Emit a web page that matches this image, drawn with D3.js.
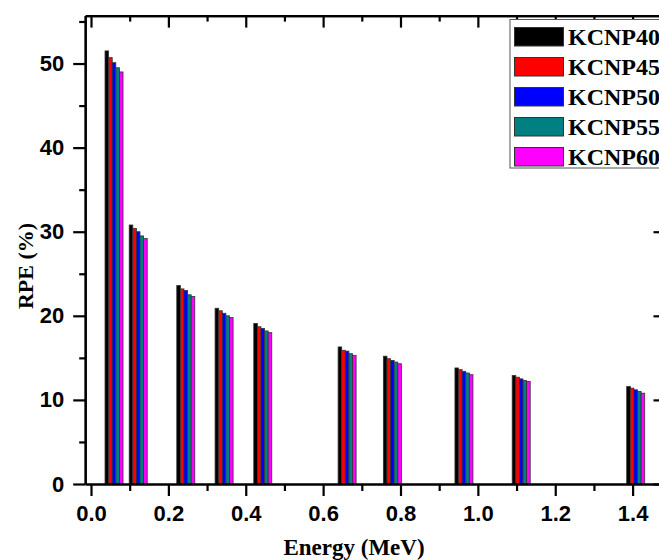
<!DOCTYPE html>
<html>
<head>
<meta charset="utf-8">
<script src="https://cdn.jsdelivr.net/npm/d3@7"></script>
<style>
  html, body { margin: 0; padding: 0; background: #fff; }
  svg { display: block; }
</style>
</head>
<body>
<svg id="chart" width="659" height="560"></svg>
<script>
// ---- Data ----
const energies = [0.0595, 0.122, 0.245, 0.344, 0.444, 0.662, 0.779, 0.964, 1.112, 1.408];
const seriesNames = ["KCNP40", "KCNP45", "KCNP50", "KCNP55", "KCNP60"];
const seriesColors = ["#000000", "#ff0000", "#0000ff", "#008080", "#ff00ff"];
const KCNP40 = [51.5, 30.8, 23.6, 20.9, 19.1, 16.3, 15.2, 13.8, 12.9, 11.6];
const KCNP45 = [50.7, 30.4, 23.2, 20.6, 18.7, 15.9, 14.9, 13.6, 12.7, 11.4];
const KCNP50 = [50.1, 30.0, 23.0, 20.3, 18.5, 15.8, 14.7, 13.4, 12.5, 11.2];
const KCNP55 = [49.5, 29.5, 22.5, 20.0, 18.2, 15.5, 14.5, 13.2, 12.3, 11.0];
const KCNP60 = [49.0, 29.2, 22.3, 19.8, 18.0, 15.3, 14.3, 13.0, 12.2, 10.8];
const seriesValues = [KCNP40, KCNP45, KCNP50, KCNP55, KCNP60];
const xTickValues = [0.0, 0.2, 0.4, 0.6, 0.8, 1.0, 1.2, 1.4];
const xMinorTicks = [0.1, 0.3, 0.5, 0.7, 0.9, 1.1, 1.3];
const yTickValues = [0, 10, 20, 30, 40, 50];
const yMinorTicks = [5, 15, 25, 35, 45, 55];

(function () {
// ---- Layout ----
const svg = d3.select("#chart");
const pLeft = 85.2, pRight = 665.5, pTop = 15.6, pBottom = 484;
const x = d3.scaleLinear().domain([-0.015, 1.485]).range([pLeft, pRight]);
const y = d3.scaleLinear().domain([0, 55.7]).range([pBottom, pTop]);
const barW = 3.6;

// ---- Bars ----
const gBars = svg.append("g");
seriesValues.forEach((vals, si) => {
  gBars.selectAll(null)
    .data(vals)
    .enter()
    .append("rect")
    .attr("x", (d, i) => x(energies[i]) + (si - 2.5) * barW)
    .attr("y", d => y(d))
    .attr("width", barW)
    .attr("height", d => y(0) - y(d))
    .attr("fill", seriesColors[si])
    .attr("stroke", "#333")
    .attr("stroke-width", 0.8);
});

// ---- Axes ----
const tickFont = "'Liberation Sans', Arial, sans-serif";
function styleAxis(g) {
  g.select(".domain").attr("stroke", "#000").attr("stroke-width", 2.2);
  g.selectAll(".tick line").attr("stroke", "#000").attr("stroke-width", 2.2);
  g.selectAll(".tick text")
    .attr("font-family", tickFont)
    .attr("font-weight", "bold")
    .attr("font-size", "22px")
    .attr("fill", "#000");
}

const gx = svg.append("g").attr("transform", `translate(0,${pBottom})`)
  .call(d3.axisBottom(x).tickValues(xTickValues).tickFormat(d3.format(".1f"))
    .tickSize(12).tickSizeOuter(0).tickPadding(9));
styleAxis(gx);
const gxm = svg.append("g").attr("transform", `translate(0,${pBottom})`)
  .call(d3.axisBottom(x).tickValues(xMinorTicks).tickFormat("").tickSize(7).tickSizeOuter(0));
styleAxis(gxm);

const gt = svg.append("g").attr("transform", `translate(0,${pTop})`)
  .call(d3.axisBottom(x).tickValues(xTickValues).tickFormat("").tickSize(12).tickSizeOuter(0));
styleAxis(gt);
const gtm = svg.append("g").attr("transform", `translate(0,${pTop})`)
  .call(d3.axisBottom(x).tickValues(xMinorTicks).tickFormat("").tickSize(6).tickSizeOuter(0));
styleAxis(gtm);

const gy = svg.append("g").attr("transform", `translate(${pLeft},0)`)
  .call(d3.axisLeft(y).tickValues(yTickValues).tickFormat(d3.format("d"))
    .tickSize(12).tickSizeOuter(0).tickPadding(9));
styleAxis(gy);
const gym = svg.append("g").attr("transform", `translate(${pLeft},0)`)
  .call(d3.axisLeft(y).tickValues(yMinorTicks).tickFormat("").tickSize(6).tickSizeOuter(0));
styleAxis(gym);

const gr = svg.append("g").attr("transform", `translate(${pRight},0)`)
  .call(d3.axisRight(y).tickValues(yTickValues).tickFormat("").tickSize(-12).tickSizeOuter(0));
styleAxis(gr);
const grm = svg.append("g").attr("transform", `translate(${pRight},0)`)
  .call(d3.axisRight(y).tickValues(yMinorTicks).tickFormat("").tickSize(-6).tickSizeOuter(0));
styleAxis(grm);

// ---- Axis titles ----
const titleFont = "'Liberation Serif', 'Times New Roman', serif";
svg.append("text")
  .attr("x", 354).attr("y", 555)
  .attr("text-anchor", "middle")
  .attr("font-family", titleFont).attr("font-weight", "bold").attr("font-size", "23px")
  .text("Energy (MeV)");
svg.append("text")
  .attr("transform", "translate(33,266) rotate(-90)")
  .attr("text-anchor", "middle")
  .attr("font-family", titleFont).attr("font-weight", "bold").attr("font-size", "22px")
  .text("RPE (%)");

// ---- Legend ----
const lg = svg.append("g");
lg.append("rect")
  .attr("x", 510).attr("y", 19.5).attr("width", 200).attr("height", 148.5)
  .attr("fill", "#fff").attr("stroke", "#555").attr("stroke-width", 1);
seriesNames.forEach((name, i) => {
  const yy = 27.5 + i * 30;
  lg.append("rect")
    .attr("x", 514.5).attr("y", yy).attr("width", 49).attr("height", 18.5)
    .attr("fill", seriesColors[i]).attr("stroke", "#333").attr("stroke-width", 1);
  lg.append("text")
    .attr("x", 568).attr("y", yy + 17.5)
    .attr("font-family", titleFont).attr("font-weight", "bold").attr("font-size", "24px")
    .attr("fill", "#000")
    .text(name);
});
})();
</script>
</body>
</html>
